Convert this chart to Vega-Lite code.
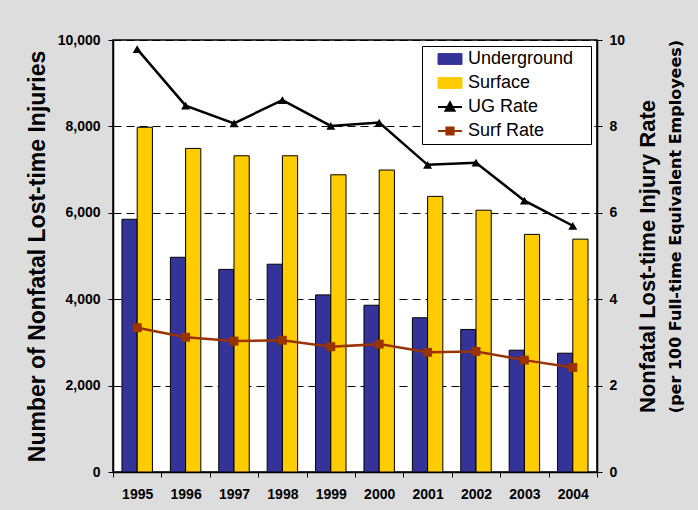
{
  "$schema": "https://vega.github.io/schema/vega-lite/v6.json",
  "width": 484,
  "height": 432,
  "autosize": {"type": "none"},
  "padding": {"left": 113, "top": 40, "right": 101, "bottom": 38},
  "background": "#dddddd",
  "config": {
    "font": "Liberation Sans",
    "view": {"stroke": "black", "strokeWidth": 1.5, "fill": "white"},
    "axis": {
      "labelFont": "Liberation Sans",
      "labelFontWeight": "bold",
      "labelFontSize": 14,
      "labelColor": "black",
      "titleFont": "Liberation Sans",
      "titleFontWeight": "bold",
      "titleColor": "black",
      "domainColor": "black",
      "domainWidth": 1.5,
      "tickColor": "black",
      "tickSize": 5
    }
  },
  "datasets": {
    "bars": [
      {"year": "1995", "series": "Underground", "count": 5850},
      {"year": "1995", "series": "Surface", "count": 7980},
      {"year": "1996", "series": "Underground", "count": 4970},
      {"year": "1996", "series": "Surface", "count": 7490},
      {"year": "1997", "series": "Underground", "count": 4690},
      {"year": "1997", "series": "Surface", "count": 7320},
      {"year": "1998", "series": "Underground", "count": 4810},
      {"year": "1998", "series": "Surface", "count": 7320},
      {"year": "1999", "series": "Underground", "count": 4100},
      {"year": "1999", "series": "Surface", "count": 6880},
      {"year": "2000", "series": "Underground", "count": 3860},
      {"year": "2000", "series": "Surface", "count": 6990},
      {"year": "2001", "series": "Underground", "count": 3570},
      {"year": "2001", "series": "Surface", "count": 6380},
      {"year": "2002", "series": "Underground", "count": 3300},
      {"year": "2002", "series": "Surface", "count": 6060},
      {"year": "2003", "series": "Underground", "count": 2820},
      {"year": "2003", "series": "Surface", "count": 5500},
      {"year": "2004", "series": "Underground", "count": 2750},
      {"year": "2004", "series": "Surface", "count": 5390}
    ],
    "rates": [
      {"year": "1995", "series": "UG Rate", "rate": 9.79},
      {"year": "1996", "series": "UG Rate", "rate": 8.48},
      {"year": "1997", "series": "UG Rate", "rate": 8.07},
      {"year": "1998", "series": "UG Rate", "rate": 8.61},
      {"year": "1999", "series": "UG Rate", "rate": 8.01},
      {"year": "2000", "series": "UG Rate", "rate": 8.09},
      {"year": "2001", "series": "UG Rate", "rate": 7.11},
      {"year": "2002", "series": "UG Rate", "rate": 7.16},
      {"year": "2003", "series": "UG Rate", "rate": 6.28},
      {"year": "2004", "series": "UG Rate", "rate": 5.70},
      {"year": "1995", "series": "Surf Rate", "rate": 3.34},
      {"year": "1996", "series": "Surf Rate", "rate": 3.12},
      {"year": "1997", "series": "Surf Rate", "rate": 3.03},
      {"year": "1998", "series": "Surf Rate", "rate": 3.05},
      {"year": "1999", "series": "Surf Rate", "rate": 2.90},
      {"year": "2000", "series": "Surf Rate", "rate": 2.96},
      {"year": "2001", "series": "Surf Rate", "rate": 2.77},
      {"year": "2002", "series": "Surf Rate", "rate": 2.79},
      {"year": "2003", "series": "Surf Rate", "rate": 2.59},
      {"year": "2004", "series": "Surf Rate", "rate": 2.42}
    ]
  },
  "layer": [
    {
      "data": {"name": "bars"},
      "mark": {"type": "bar", "stroke": "black", "strokeWidth": 1},
      "encoding": {
        "x": {
          "field": "year", "type": "ordinal",
          "scale": {"paddingInner": 0, "paddingOuter": 0},
          "axis": {"title": null, "labelAngle": 0, "tickBand": "extent", "labelPadding": 10, "grid": false}
        },
        "xOffset": {
          "field": "series", "type": "nominal",
          "scale": {"domain": ["Underground", "Surface"], "paddingInner": 0, "paddingOuter": 0.59}
        },
        "y": {
          "field": "count", "type": "quantitative",
          "scale": {"domain": [0, 10000], "nice": false},
          "axis": {
            "orient": "left",
            "values": [0, 2000, 4000, 6000, 8000, 10000],
            "format": ",d",
            "grid": true,
            "gridColor": "black",
            "gridDash": [8, 5],
            "gridWidth": 1,
            "labelPadding": 8,
            "title": "Number of Nonfatal Lost-time Injuries",
            "titleFontSize": 23,
            "titlePadding": 8
          }
        },
        "color": {
          "field": "series", "type": "nominal",
          "scale": {
            "domain": ["Underground", "Surface", "UG Rate", "Surf Rate"],
            "range": ["#333399", "#FFCC00", "#000000", "#993300"]
          },
          "legend": {
            "title": null,
            "orient": "top-right",
            "offset": 6,
            "fillColor": "white",
            "strokeColor": "black",
            "padding": 4,
            "rowPadding": 6,
            "symbolSize": 576,
            "symbolOffset": 15,
            "labelFont": "Liberation Sans",
            "labelFontSize": 18,
            "labelColor": "black",
            "labelOffset": 9,
            "labelExpr": "datum.label + '\u2800'",
            "encoding": {
              "symbols": {
                "shape": {"value": {"expr": "datum.value === 'UG Rate' ? 'M-1,0H1M-0.38,0.32L0,-0.38L0.38,0.32Z' : (datum.value === 'Surf Rate' ? 'M-1,0H1M-0.3,-0.3H0.3V0.3H-0.3Z' : 'M-1,-0.45H1V0.45H-1Z')"}},
                "fill": {"value": {"expr": "datum.value === 'Underground' ? '#333399' : (datum.value === 'Surface' ? '#FFCC00' : (datum.value === 'UG Rate' ? '#000000' : '#993300'))"}},
                "stroke": {"value": {"expr": "datum.value === 'Surf Rate' ? '#993300' : '#000000'"}},
                "strokeWidth": {"value": {"expr": "datum.value === 'Underground' || datum.value === 'Surface' ? 1 : 2"}},
                "opacity": {"value": 1},
                "fillOpacity": {"value": 1}
              }
            }
          }
        }
      }
    },
    {
      "data": {"name": "rates"},
      "layer": [
        {
          "mark": {"type": "line", "strokeWidth": 2.5},
          "encoding": {
            "x": {"field": "year", "type": "ordinal"},
            "y": {
              "field": "rate", "type": "quantitative",
              "scale": {"domain": [0, 10], "nice": false},
              "axis": {
                "orient": "right",
                "values": [0, 2, 4, 6, 8, 10],
                "grid": false,
                "labelPadding": 7,
                "title": "Nonfatal Lost-time Injury Rate",
                "titleFontSize": 22,
                "titleAngle": 270,
                "titleBaseline": "top",
                "titlePadding": 13
              }
            },
            "color": {"field": "series", "type": "nominal"}
          }
        },
        {
          "mark": {"type": "point", "filled": true, "opacity": 1, "size": 80},
          "encoding": {
            "x": {"field": "year", "type": "ordinal"},
            "y": {"field": "rate", "type": "quantitative"},
            "color": {"field": "series", "type": "nominal"},
            "shape": {
              "field": "series", "type": "nominal",
              "scale": {"domain": ["UG Rate", "Surf Rate"], "range": ["triangle-up", "square"]},
              "legend": null
            }
          }
        }
      ]
    },
    {
      "data": {"name": "rates"},
      "mark": {"type": "point", "opacity": 0},
      "encoding": {
        "x": {"field": "year", "type": "ordinal"},
        "y": {
          "field": "rate", "type": "quantitative",
          "scale": {"domain": [0, 10], "nice": false},
          "axis": {
            "orient": "right",
            "labels": false,
            "ticks": false,
            "domain": false,
            "grid": false,
            "title": "(per 100 Full-time Equivalent Employees)",
            "titleFont": "DejaVu Sans",
            "titleFontSize": 16,
            "titleAngle": 270,
            "titleBaseline": "top",
            "titlePadding": 70,
            "titleY": 186
          }
        }
      }
    }
  ],
  "resolve": {"scale": {"y": "independent"}}
}
